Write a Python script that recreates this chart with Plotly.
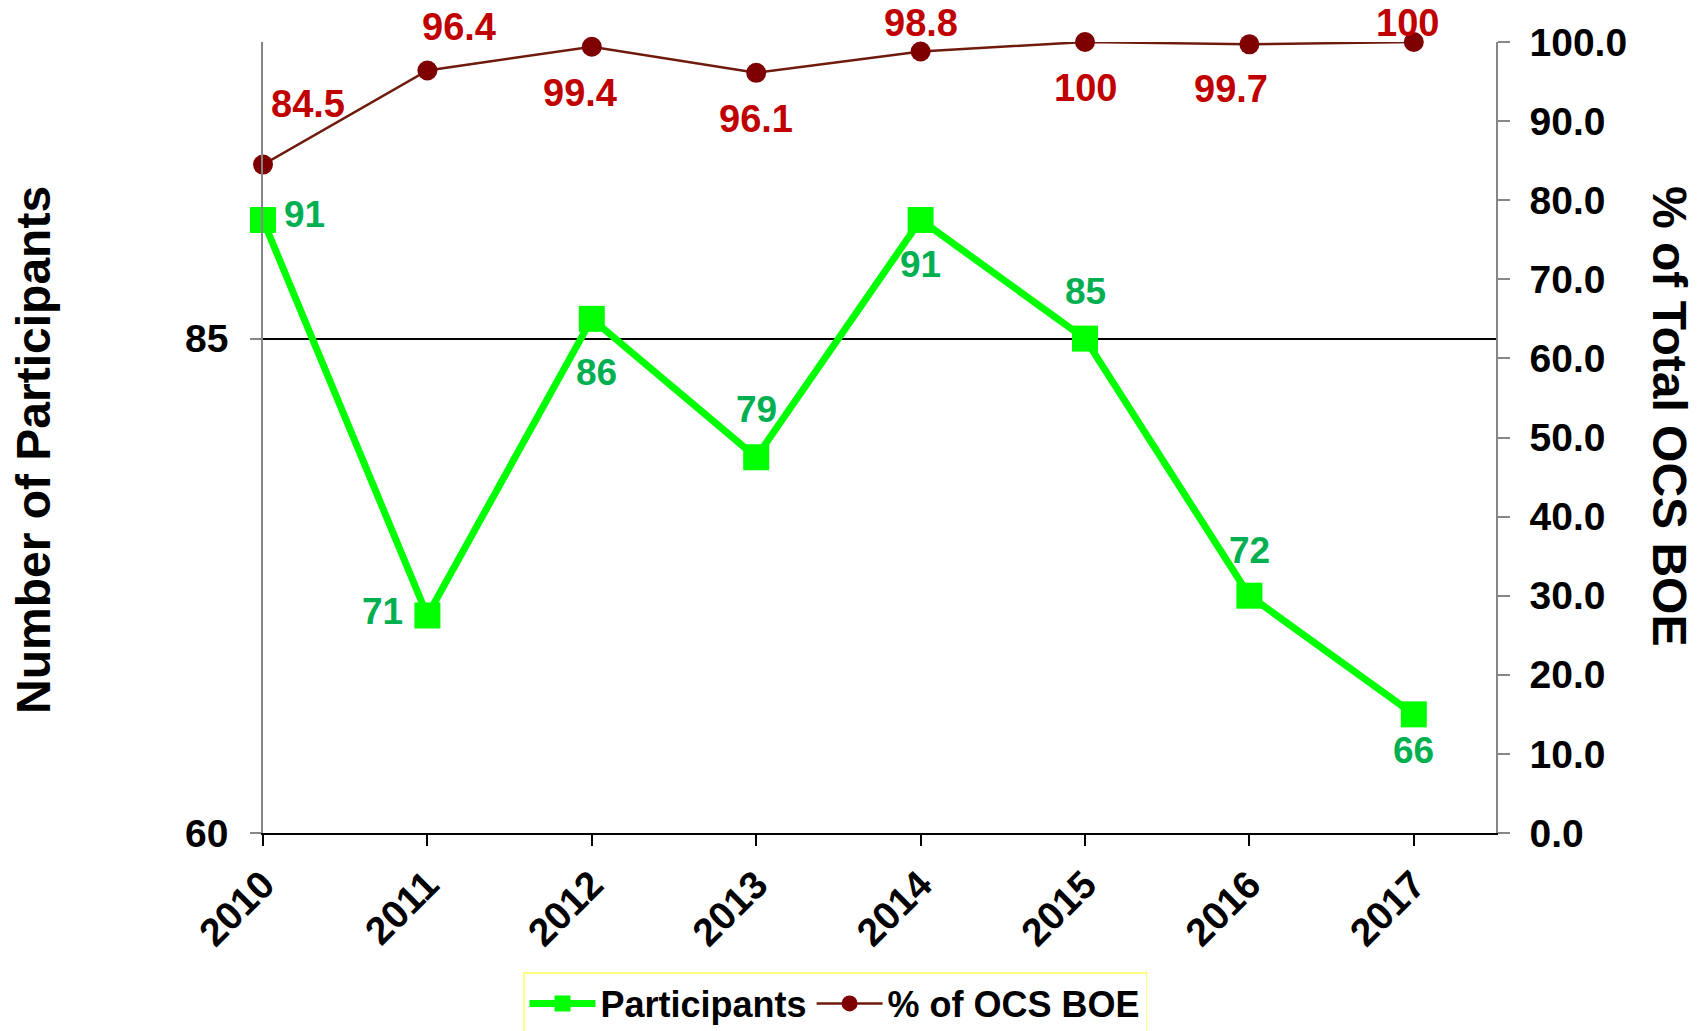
import plotly.graph_objects as go

years = ["2010", "2011", "2012", "2013", "2014", "2015", "2016", "2017"]
participants = [91, 71, 86, 79, 91, 85, 72, 66]
pct_boe = [84.5, 96.4, 99.4, 96.1, 98.8, 100, 99.7, 100]
pct_labels = ["84.5", "96.4", "99.4", "96.1", "98.8", "100", "99.7", "100"]

# label offsets in pixels (dx right, dy down)
part_off = [(41, -5), (-45, -4), (5, 54), (0, -48), (0, 45), (0, -47), (0, -45), (0, 36)]
pct_off = [(45, -61), (32, -43), (-12, 46), (0, 46), (0, -28), (0, 46), (-18, 45), (-6, -19)]

FONT = "Liberation Sans, Arial, sans-serif"
GREEN = "#00ff00"
GREEN_TXT = "#00b050"
RED_TXT = "#c00000"
MAROON = "#7f0000"
GRAY = "#868686"

# page body has an 8px margin, so the figure is drawn 8px smaller and offset
OFF = 8
W, H = 1708 - OFF, 1031 - OFF
L, R, T, B = 263 - OFF, 212, 42 - OFF, 198
pw, ph = W - L - R, H - T - B

fig = go.Figure()
fig.add_trace(go.Scatter(
    x=years, y=participants, name="Participants", mode="lines+markers",
    line=dict(color=GREEN, width=7),
    marker=dict(symbol="square", size=26, color=GREEN),
    yaxis="y", hoverinfo="skip", cliponaxis=False,
))
fig.add_trace(go.Scatter(
    x=years, y=pct_boe, name="% of OCS BOE", mode="lines+markers",
    line=dict(color="#6e1a0c", width=2.5),
    marker=dict(symbol="circle", size=20, color=MAROON),
    yaxis="y2", hoverinfo="skip", cliponaxis=False,
))

annotations = []
for i, (v, (dx, dy)) in enumerate(zip(participants, part_off)):
    annotations.append(dict(
        x=i, y=v, xref="x", yref="y", text=str(v), showarrow=False,
        xshift=dx, yshift=-dy, xanchor="center", yanchor="middle",
        font=dict(family=FONT, size=37, color=GREEN_TXT, weight="bold"),
    ))
for i, (v, t, (dx, dy)) in enumerate(zip(pct_boe, pct_labels, pct_off)):
    annotations.append(dict(
        x=i, y=v, xref="x", yref="y2", text=t, showarrow=False,
        xshift=dx, yshift=-dy, xanchor="center", yanchor="middle",
        font=dict(family=FONT, size=38, color=RED_TXT, weight="bold"),
    ))
# axis titles, positioned in page pixels then converted to paper coords
titles = [("Number of Participants", 33, 450, -90), ("% of Total OCS BOE", 1670, 416, 90)]
for text, px, py, ang in titles:
    annotations.append(dict(
        x=(px - OFF - L) / pw, y=(H - B - (py - OFF)) / ph,
        xref="paper", yref="paper", text=text,
        showarrow=False, textangle=ang, xanchor="center", yanchor="middle",
        font=dict(family=FONT, size=48, color="black", weight="bold"),
    ))

tickfont = dict(family=FONT, size=39, color="black", weight="bold")

fig.update_layout(
    width=W, height=H,
    margin=dict(l=L, r=R, t=T, b=B, autoexpand=False),
    paper_bgcolor="white", plot_bgcolor="white",
    font=dict(family=FONT, color="black"),
    showlegend=True,
    legend=dict(
        orientation="h", x=(523 - OFF - L) / pw, y=(H - B - (972 - OFF)) / ph,
        xanchor="left", yanchor="top",
        bordercolor="#ffff80", borderwidth=1.5, bgcolor="white",
        font=dict(family=FONT, size=36, color="black", weight="bold"),
        itemwidth=66, tracegroupgap=0,
    ),
    xaxis=dict(
        type="category", range=[0, 7.5], showgrid=False,
        showline=True, linecolor="black", linewidth=2,
        ticks="outside", ticklen=11, tickwidth=2, tickcolor="black",
        tickangle=-45, tickfont=tickfont, zeroline=False,
    ),
    yaxis=dict(
        range=[60, 100], tick0=60, dtick=25, tickmode="linear",
        showgrid=True, gridcolor="black", gridwidth=2,
        showline=True, linecolor=GRAY, linewidth=1.5,
        ticks="outside", ticklen=11, tickcolor=GRAY, tickwidth=1.5,
        ticklabelstandoff=14, tickfont=tickfont, zeroline=False,
    ),
    yaxis2=dict(
        range=[0, 100], tick0=0, dtick=10, tickmode="linear", tickformat=".1f",
        overlaying="y", side="right", showgrid=False,
        showline=True, linecolor=GRAY, linewidth=1.5,
        ticks="outside", ticklen=12, tickcolor=GRAY, tickwidth=1.5,
        ticklabelstandoff=12, tickfont=tickfont, zeroline=False,
    ),
    annotations=annotations,
)

fig.write_html("out.html")
